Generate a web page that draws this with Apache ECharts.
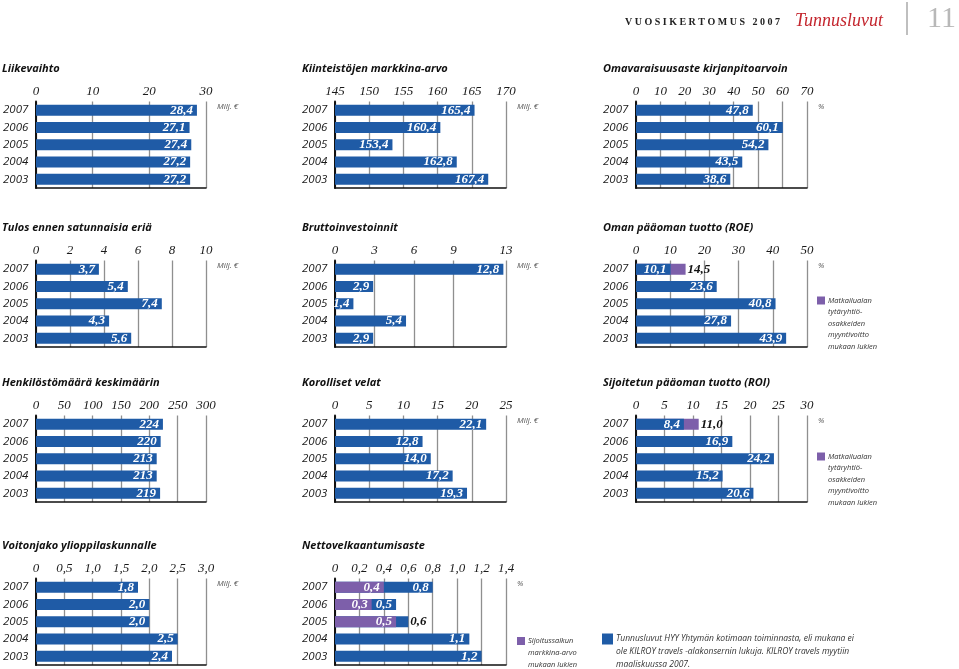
<!DOCTYPE html>
<html><head><meta charset="utf-8">
<script src="https://cdn.jsdelivr.net/npm/echarts@6/dist/echarts.min.js"></script>
<style>html,body{margin:0;padding:0;background:#fff}#c{width:959px;height:669px}</style>
</head><body><div id="c"></div><script>
// ---- data ----
const years = ['2007','2006','2005','2004','2003'];
const liikevaihto = [28.4, 27.1, 27.4, 27.2, 27.2];
const kiinteistot = [165.4, 160.4, 153.4, 162.8, 167.4];
const omavaraisuus = [47.8, 60.1, 54.2, 43.5, 38.6];
const tulos = [3.7, 5.4, 7.4, 4.3, 5.6];
const brutto = [12.8, 2.9, 1.4, 5.4, 2.9];
const roe = [10.1, 23.6, 40.8, 27.8, 43.9];
const roeMyynti = [14.5, null, null, null, null];
const henkilosto = [224, 220, 213, 213, 219];
const velat = [22.1, 12.8, 14.0, 17.2, 19.3];
const roi = [8.4, 16.9, 24.2, 15.2, 20.6];
const roiMyynti = [11.0, null, null, null, null];
const voitonjako = [1.8, 2.0, 2.0, 2.5, 2.4];
const netto = [0.8, 0.5, 0.6, 1.1, 1.2];
const nettoSalkku = [0.4, 0.3, 0.5, null, null];

// ---- tick labels ----
const liikevaihtoTicks = [0, 10, 20, 30];
const kiinteistoTicks = [145, 150, 155, 160, 165, 170];
const omavaraisuusTicks = [0, 10, 20, 30, 40, 50, 60, 70];
const tulosTicks = [0, 2, 4, 6, 8, 10];
const bruttoTicks = [0, 3, 6, 9, 13];
const roeTicks = [0, 10, 20, 30, 40, 50];
const henkilostoTicks = [0, 50, 100, 150, 200, 250, 300];
const velatTicks = [0, 5, 10, 15, 20, 25];
const roiTicks = [0, 5, 10, 15, 20, 25, 30];
const voitonjakoTicks = [0, 0.5, 1.0, 1.5, 2.0, 2.5, 3.0];
const nettoTicks = [0, 0.2, 0.4, 0.6, 0.8, 1.0, 1.2, 1.4];

// ---- layout / style ----
const BLUE = '#1f5ba6', PURPLE = '#7d5faa';
const SERIF = '"Liberation Serif","DejaVu Serif",serif';
const SANS = '"Open Sans","Noto Sans",sans-serif';
const colX = [35, 335, 636];
const rowY = [101.5, 260.5, 415.5, 578.5];
const GW = 171, GH = 86.5;

const panels = [
  {title:'Liikevaihto', c:0, r:0, ticks:liikevaihtoTicks, main:liikevaihto, unit:'Milj. €', dec:1, axDec:0},
  {title:'Kiinteistöjen markkina-arvo', c:1, r:0, ticks:kiinteistoTicks, main:kiinteistot, unit:'Milj. €', dec:1, axDec:0},
  {title:'Omavaraisuusaste kirjanpitoarvoin', c:2, r:0, ticks:omavaraisuusTicks, main:omavaraisuus, unit:'%', dec:1, axDec:0},
  {title:'Tulos ennen satunnaisia eriä', c:0, r:1, ticks:tulosTicks, main:tulos, unit:'Milj. €', dec:1, axDec:0},
  {title:'Bruttoinvestoinnit', c:1, r:1, ticks:bruttoTicks, main:brutto, unit:'Milj. €', dec:1, axDec:0},
  {title:'Oman pääoman tuotto (ROE)', c:2, r:1, ticks:roeTicks, main:roe, extra:roeMyynti, kind:'behind', unit:'%', dec:1, axDec:0},
  {title:'Henkilöstömäärä keskimäärin', c:0, r:2, ticks:henkilostoTicks, main:henkilosto, unit:'', dec:0, axDec:0},
  {title:'Korolliset velat', c:1, r:2, ticks:velatTicks, main:velat, unit:'Milj. €', dec:1, axDec:0},
  {title:'Sijoitetun pääoman tuotto (ROI)', c:2, r:2, ticks:roiTicks, main:roi, extra:roiMyynti, kind:'behind', unit:'%', dec:1, axDec:0},
  {title:'Voitonjako ylioppilaskunnalle', c:0, r:3, ticks:voitonjakoTicks, main:voitonjako, unit:'Milj. €', dec:1, axDec:1},
  {title:'Nettovelkaantumisaste', c:1, r:3, ticks:nettoTicks, main:netto, extra:nettoSalkku, kind:'front', unit:'%', dec:1, axDec:1}
];

const fmt = (v, d) => d === 0 ? String(Math.round(v)) : Number(v).toFixed(d).replace('.', ',');
const valLabel = {show:true, position:'insideRight', distance:4, color:'#fff',
  fontFamily:SERIF, fontStyle:'italic', fontWeight:'bold', fontSize:13};
const outLabel = Object.assign({}, valLabel, {position:'right', distance:2, color:'#111'});

const grid = [], xAxis = [], yAxis = [], series = [], graphic = [];

panels.forEach((p, i) => {
  const t = p.ticks, min = t[0], max = t[t.length - 1], interval = +(t[1] - t[0]).toFixed(6);
  const inTicks = v => t.some(x => Math.abs(x - v) < 1e-6);
  const gen = [];
  for (let v = min; v < max - 1e-6; v = +(v + interval).toFixed(6)) gen.push(v);
  gen.push(max);
  const lineColors = gen.map(v => inTicks(v) ? '#8f8f8f' : 'rgba(0,0,0,0)');
  const left = colX[p.c], top = rowY[p.r];
  grid.push({left:left, top:top, width:GW, height:GH});
  xAxis.push({gridIndex:i, type:'value', position:'top', min:min, max:max, interval:interval, startValue:min,
    axisLine:{show:false}, axisTick:{show:false},
    splitLine:{show:true, lineStyle:{color:lineColors, width:1.3}},
    axisLabel:{margin:3, fontFamily:SERIF, fontStyle:'italic', fontSize:13, color:'#1a1a1a',
      formatter: v => !inTicks(v) ? '' : (Math.abs(v) < 1e-9 ? '0' : fmt(v, p.axDec))}});
  xAxis.push({gridIndex:i, type:'value', position:'bottom', min:min, max:max, interval:interval,
    axisLine:{show:true, lineStyle:{color:'#111', width:1.6}}, axisTick:{show:false},
    axisLabel:{show:false}, splitLine:{show:false}});
  yAxis.push({gridIndex:i, type:'category', data:years, inverse:true,
    axisLine:{show:true, lineStyle:{color:'#111', width:2}}, axisTick:{show:false},
    axisLabel:{align:'left', margin:33, fontFamily:SANS, fontStyle:'italic', fontSize:11.5, color:'#1a1a1a'}});
  const xi = 2 * i;
  const base = {type:'bar', xAxisIndex:xi, yAxisIndex:i, barWidth:11, barGap:'-100%', animation:false};
  if (p.kind === 'behind') {
    series.push(Object.assign({}, base, {data:p.extra, itemStyle:{color:PURPLE},
      label:Object.assign({}, outLabel, {formatter: o => fmt(o.value, p.dec)})}));
    series.push(Object.assign({}, base, {data:p.main, itemStyle:{color:BLUE},
      label:Object.assign({}, valLabel, {formatter: o => fmt(o.value, p.dec)})}));
  } else if (p.kind === 'front') {
    const items = p.main.map((v, k) => {
      const under = p.extra[k];
      const small = under != null && (v - under) < 0.15;
      return {value:v, label: small ? outLabel : valLabel};
    });
    series.push(Object.assign({}, base, {data:items, itemStyle:{color:BLUE},
      label:Object.assign({}, valLabel, {formatter: o => fmt(o.value, p.dec)})}));
    series.push(Object.assign({}, base, {data:p.extra, itemStyle:{color:PURPLE},
      label:Object.assign({}, valLabel, {formatter: o => fmt(o.value, p.dec)})}));
  } else {
    series.push(Object.assign({}, base, {data:p.main, itemStyle:{color:BLUE},
      label:Object.assign({}, valLabel, {formatter: o => fmt(o.value, p.dec)})}));
  }
  // title
  graphic.push({type:'text', x:left - 33, y:top - 33, style:{text:p.title, fill:'#111',
    font:'italic bold 11px ' + SANS, verticalAlign:'middle'}});
  if (p.unit) graphic.push({type:'text', x:left + GW + 11, y:top + 5, style:{text:p.unit, fill:'#555',
    font:'italic 8px ' + SANS, verticalAlign:'middle'}});
});

// legends
function legendBlock(x, y, color, lines, size, lh, fontSize) {
  graphic.push({type:'rect', x:x, y:y, shape:{width:size, height:size}, style:{fill:color}});
  lines.forEach((s, k) => graphic.push({type:'text', x:x + size + 3, y:y + size / 2 + k * lh,
    style:{text:s, fill:'#333', font:'italic ' + fontSize + 'px ' + SANS, verticalAlign:'middle'}}));
}
const myyntiLines = ['Matkailualan', 'tytäryhtiö-', 'osakkeiden', 'myyntivoitto', 'mukaan lukien'];
legendBlock(817, 296.5, PURPLE, myyntiLines, 8, 11.6, 7.5);
legendBlock(817, 452.5, PURPLE, myyntiLines, 8, 11.6, 7.5);
legendBlock(517, 637, PURPLE, ['Sijoitussalkun', 'markkina-arvo', 'mukaan lukien'], 8, 11.7, 7.5);
legendBlock(602, 633.5, BLUE, ['Tunnusluvut HYY Yhtymän kotimaan toiminnasta, eli mukana ei',
  'ole KILROY travels -alakonsernin lukuja. KILROY travels myytiin', 'maaliskuussa 2007.'], 11, 12.8, 8.5);

// header
graphic.push({type:'text', x:625, y:22, style:{text:'V U O S I K E R T O M U S   2 0 0 7', fill:'#222',
  font:'bold 10px ' + SERIF, verticalAlign:'middle'}});
graphic.push({type:'text', x:795, y:21, style:{text:'Tunnusluvut', fill:'#c4262e',
  font:'italic 18px ' + SERIF, verticalAlign:'middle'}});
graphic.push({type:'line', shape:{x1:907, y1:2, x2:907, y2:35}, style:{stroke:'#aaa', lineWidth:1.5}});
graphic.push({type:'text', x:927, y:19, style:{text:'11', fill:'#b8b8b8',
  font:'30px ' + SERIF, verticalAlign:'middle'}});

const chart = echarts.init(document.getElementById('c'), null, {renderer:'canvas'});
chart.setOption({animation:false, backgroundColor:'#fff', grid, xAxis, yAxis, series, graphic});
</script></body></html>
